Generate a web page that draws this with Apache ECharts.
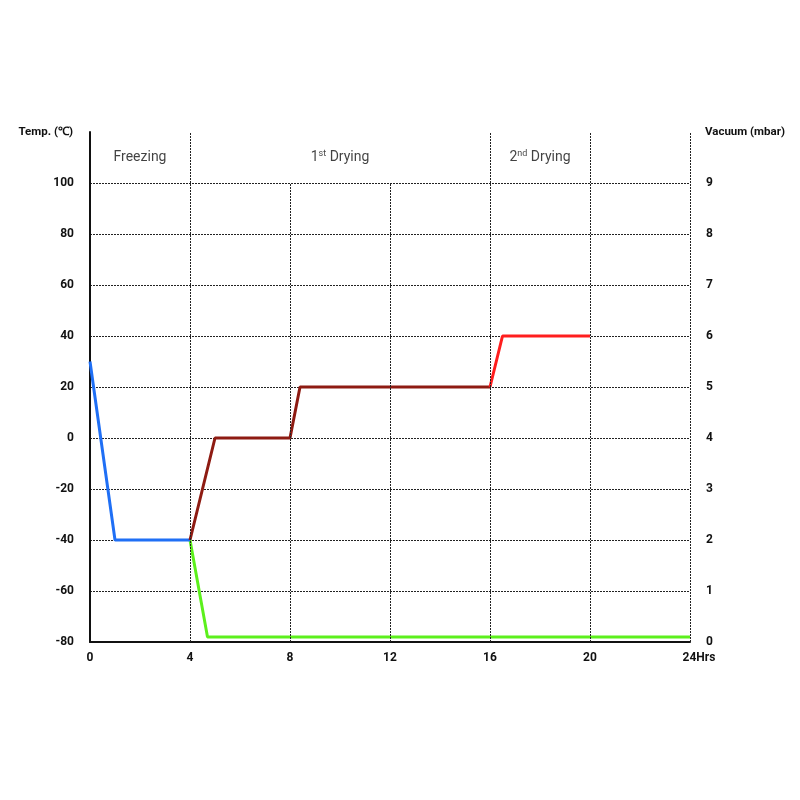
<!DOCTYPE html>
<html>
<head>
<meta charset="utf-8">
<script src="https://cdn.jsdelivr.net/npm/echarts@6/dist/echarts.min.js"></script>
<style>
  html, body { margin: 0; padding: 0; background: #fff; }
  #chart { width: 800px; height: 800px; }
</style>
</head>
<body>
<div id="chart"></div>
<script>
// 数据
const hourTicks = [0, 4, 8, 12, 16, 20, 24];
const tempTicks = [-80, -60, -40, -20, 0, 20, 40, 60, 80, 100];
const vacuumTicks = [0, 1, 2, 3, 4, 5, 6, 7, 8, 9];

// 冷冻 (温度)
const freezeHours = [0, 1, 4];
const freezeTemps = [30, -40, -40];
// 一次干燥 (温度)
const dry1Hours = [4, 5, 8, 8.4, 16];
const dry1Temps = [-40, 0, 0, 20, 20];
// 二次干燥 (温度)
const dry2Hours = [16, 16.5, 20];
const dry2Temps = [20, 40, 40];
// 真空度 (mbar)
const vacuumHours = [4, 4.7, 24];
const vacuumValues = [2, 0.1, 0.1];

// 阶段标题
const phaseNames = ['Freezing', '{n|1}{sup|st}{n| Drying}', '{n|2}{sup|nd}{n| Drying}'];
const phaseHours = [2, 10, 18];
const phaseLabelTemp = 110;

// 竖向虚线
const tallLines = [4, 16, 20, 24];
const shortLines = [8, 12];

const pairs = (xs, ys) => xs.map((x, i) => [x, ys[i]]);

const dashed = { color: '#222', width: 1, type: [2, 1] };

const gridLines = [
    ...tallLines.map(h => [{ coord: [h, -80] }, { coord: [h, 120] }]),
    ...shortLines.map(h => [{ coord: [h, -80] }, { coord: [h, 100] }])
];

const chart = echarts.init(document.getElementById('chart'));

const option = {
    animation: false,
    grid: { left: 90, right: 110, top: 132, bottom: 158 },
    textStyle: { fontFamily: 'Roboto' },
    xAxis: {
        type: 'value',
        position: 'bottom',
        min: 0, max: 24, interval: 4,
        axisLine: { show: true, onZero: false, lineStyle: { color: '#111', width: 2 } },
        axisTick: { show: false },
        splitLine: { show: false },
        axisLabel: {
            margin: 10,
            fontSize: 12,
            fontWeight: 'bold',
            color: '#111',
            formatter: v => v === 24 ? '{last|24Hrs}' : (hourTicks.includes(v) ? String(v) : ''),
            rich: {
                last: { fontSize: 12, fontWeight: 'bold', color: '#111', padding: [0, 0, 0, 18] }
            }
        }
    },
    yAxis: [
        {
            type: 'value',
            position: 'left',
            min: -80, max: 120, interval: 20,
            name: 'Temp. (℃)',
            nameLocation: 'end',
            nameGap: 0,
            nameTextStyle: { fontSize: 11.5, fontWeight: 'bold', color: '#111', align: 'right', verticalAlign: 'middle', padding: [0, 17, 0, 0] },
            axisLine: { show: true, onZero: false, lineStyle: { color: '#111', width: 2 } },
            axisTick: { show: false },
            axisLabel: {
                margin: 16,
                fontSize: 12,
                fontWeight: 'bold',
                color: '#111',
                formatter: v => tempTicks.includes(v) ? String(v) : ''
            },
            splitLine: { show: true, showMinLine: false, showMaxLine: false, lineStyle: dashed }
        },
        {
            type: 'value',
            position: 'right',
            min: 0, max: 10, interval: 1,
            name: 'Vacuum (mbar)',
            nameLocation: 'end',
            nameGap: 0,
            nameTextStyle: { fontSize: 11.5, fontWeight: 'bold', color: '#111', align: 'left', verticalAlign: 'middle', padding: [0, 0, 0, 15] },
            axisLine: { show: false, onZero: false },
            axisTick: { show: false },
            axisLabel: {
                margin: 16,
                fontSize: 12,
                fontWeight: 'bold',
                color: '#111',
                formatter: v => vacuumTicks.includes(v) ? String(v) : ''
            },
            splitLine: { show: false }
        }
    ],
    series: [
        {
            name: 'grid',
            type: 'line',
            data: [],
            markLine: {
                silent: true,
                symbol: 'none',
                label: { show: false },
                lineStyle: dashed,
                data: gridLines
            }
        },
        {
            name: 'phases',
            type: 'scatter',
            symbolSize: 0,
            data: pairs(phaseHours, phaseHours.map(() => phaseLabelTemp)),
            label: {
                show: true,
                position: 'inside',
                color: '#111',
                fontSize: 14,
                formatter: p => phaseNames[p.dataIndex],
                rich: {
                    n: { fontSize: 14, color: '#111' },
                    sup: { fontSize: 9, color: '#111', padding: [0, 0, 7, 0] }
                }
            }
        },
        {
            name: 'Freezing',
            type: 'line',
            data: pairs(freezeHours, freezeTemps),
            showSymbol: false,
            lineStyle: { color: '#1f6ff5', width: 3 },
            itemStyle: { color: '#1f6ff5' },
            z: 3
        },
        {
            name: '1st Drying',
            type: 'line',
            data: pairs(dry1Hours, dry1Temps),
            showSymbol: false,
            lineStyle: { color: '#8e1b12', width: 3 },
            itemStyle: { color: '#8e1b12' },
            z: 3
        },
        {
            name: '2nd Drying',
            type: 'line',
            data: pairs(dry2Hours, dry2Temps),
            showSymbol: false,
            lineStyle: { color: '#ff1e1e', width: 3 },
            itemStyle: { color: '#ff1e1e' },
            z: 3
        },
        {
            name: 'Vacuum',
            type: 'line',
            yAxisIndex: 1,
            data: pairs(vacuumHours, vacuumValues),
            showSymbol: false,
            lineStyle: { color: '#5cf01c', width: 3 },
            itemStyle: { color: '#5cf01c' },
            z: 2
        }
    ]
};

chart.setOption(option);
</script>
</body>
</html>
